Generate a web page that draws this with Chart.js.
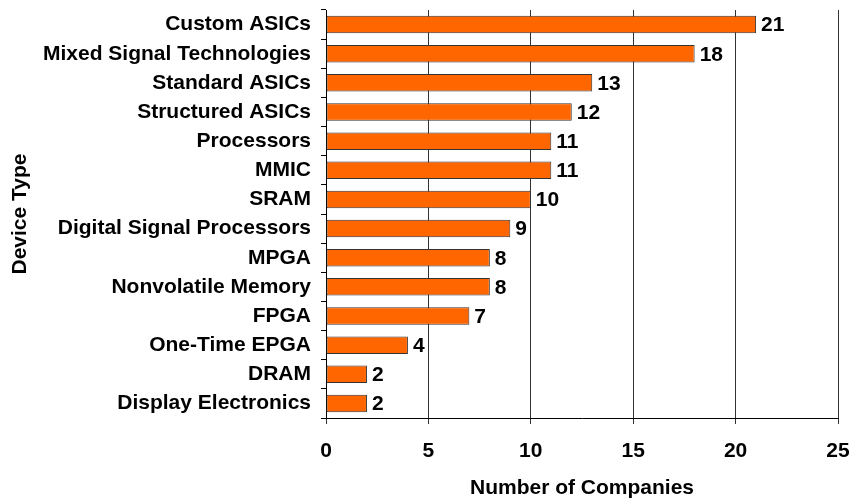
<!DOCTYPE html>
<html>
<head>
<meta charset="utf-8">
<script src="https://cdn.jsdelivr.net/npm/chart.js@4"></script>
<style>
  html, body { margin: 0; padding: 0; background: #fff; }
  #wrap { width: 849px; height: 502px; }
</style>
</head>
<body>
<div id="wrap"><canvas id="c" width="849" height="502"></canvas></div>
<script>
// categories, top to bottom
const deviceTypes = [
  'Custom ASICs', 'Mixed Signal Technologies', 'Standard ASICs', 'Structured ASICs',
  'Processors', 'MMIC', 'SRAM', 'Digital Signal Processors', 'MPGA',
  'Nonvolatile Memory', 'FPGA', 'One-Time EPGA', 'DRAM', 'Display Electronics'
];
const companyCounts = [21, 18, 13, 12, 11, 11, 10, 9, 8, 8, 7, 4, 2, 2];
const xTicks = [0, 5, 10, 15, 20, 25];

const FONT = 'Liberation Sans, Arial, sans-serif';
const FS = 21;

// value labels at the end of each bar
const valueLabels = {
  id: 'valueLabels',
  afterDatasetsDraw(chart) {
    const ctx = chart.ctx;
    const meta = chart.getDatasetMeta(0);
    ctx.save();
    ctx.font = 'bold ' + FS + 'px ' + FONT;
    ctx.fillStyle = '#000';
    ctx.textAlign = 'left';
    ctx.textBaseline = 'middle';
    meta.data.forEach((bar, i) => {
      ctx.fillText(companyCounts[i], bar.x + 5, bar.y + 1);
    });
    ctx.restore();
  }
};

new Chart(document.getElementById('c'), {
  type: 'bar',
  data: {
    labels: deviceTypes,
    datasets: [{
      data: companyCounts,
      backgroundColor: '#FF6600',
      borderColor: '#333',
      borderWidth: 1,
      borderSkipped: false,
      categoryPercentage: 0.6,
      barPercentage: 1.0
    }]
  },
  options: {
    indexAxis: 'y',
    responsive: false,
    animation: false,
    layout: { padding: { top: 10, right: 11, left: 0, bottom: 0 } },
    plugins: {
      legend: { display: false },
      tooltip: { enabled: false }
    },
    scales: {
      x: {
        min: 0,
        max: 25,
        afterBuildTicks: s => { s.ticks = xTicks.map(v => ({ value: v })); },
        afterFit: s => { s.height = 84; s.paddingLeft = 0; s.paddingRight = 0; },
        grid: { color: '#333', lineWidth: 1, tickLength: 6, drawOnChartArea: true },
        border: { color: '#000', width: 1 },
        ticks: { color: '#000', font: { family: FONT, size: FS, weight: 'bold' }, padding: 15, maxRotation: 0 },
        title: { display: true, text: 'Number of Companies', color: '#000', font: { family: FONT, size: FS, weight: 'bold' }, padding: { top: 0, bottom: 1 } }
      },
      y: {
        afterFit: s => { s.width = 326; s.paddingTop = 0; s.paddingBottom = 0; },
        grid: { offset: true, drawOnChartArea: false, color: '#000', tickLength: 5 },
        border: { color: '#000', width: 1 },
        ticks: { color: '#000', font: { family: FONT, size: FS, weight: 'bold' }, padding: 10, autoSkip: false },
        title: { display: true, text: 'Device Type', color: '#000', font: { family: FONT, size: FS, weight: 'bold' }, padding: { top: 8, bottom: 4 } }
      }
    }
  },
  plugins: [valueLabels]
});
</script>
</body>
</html>
